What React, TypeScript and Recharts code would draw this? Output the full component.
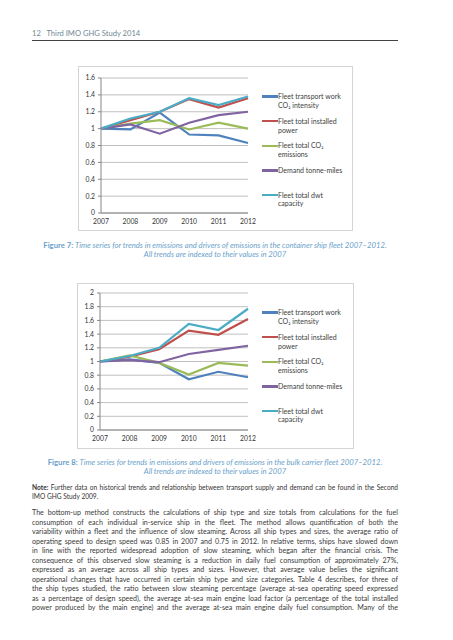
import { LineChart, Line, XAxis, YAxis, CartesianGrid } from "recharts";

const years = ["2007", "2008", "2009", "2010", "2011", "2012"];

// container ship fleet (Figure 7), indexed to 2007
const ctIntensity = [1, 0.99, 1.19, 0.93, 0.92, 0.83];
const ctPower = [1, 1.1, 1.2, 1.35, 1.25, 1.36];
const ctEmissions = [1, 1.06, 1.1, 0.99, 1.07, 1.0];
const ctDemand = [1, 1.05, 0.94, 1.07, 1.16, 1.2];
const ctDwt = [1, 1.12, 1.2, 1.36, 1.28, 1.38];

// bulk carrier fleet (Figure 8), indexed to 2007
const bkIntensity = [1, 1.03, 0.98, 0.74, 0.85, 0.77];
const bkPower = [1, 1.07, 1.18, 1.45, 1.39, 1.62];
const bkEmissions = [1, 1.09, 0.98, 0.81, 0.98, 0.94];
const bkDemand = [1, 1.02, 0.99, 1.11, 1.17, 1.23];
const bkDwt = [1, 1.08, 1.2, 1.55, 1.46, 1.77];

const ticks1 = [0, 0.2, 0.4, 0.6, 0.8, 1, 1.2, 1.4, 1.6];
const ticks2 = [0, 0.2, 0.4, 0.6, 0.8, 1, 1.2, 1.4, 1.6, 1.8, 2];

const series = [
  { key: "intensity", label: "Fleet transport work\nCO\u2082 intensity", color: "#4f81bd" },
  { key: "power", label: "Fleet total installed\npower", color: "#c0504d" },
  { key: "emissions", label: "Fleet total CO\u2082\nemissions", color: "#9bbb59" },
  { key: "demand", label: "Demand tonne-miles", color: "#8064a2" },
  { key: "dwt", label: "Fleet total dwt\ncapacity", color: "#4bacc6" },
];

const containerData = years.map((year, i) => ({
  year,
  intensity: ctIntensity[i],
  power: ctPower[i],
  emissions: ctEmissions[i],
  demand: ctDemand[i],
  dwt: ctDwt[i],
}));

const bulkData = years.map((year, i) => ({
  year,
  intensity: bkIntensity[i],
  power: bkPower[i],
  emissions: bkEmissions[i],
  demand: bkDemand[i],
  dwt: bkDwt[i],
}));

const bodyLines = [
  "The bottom-up method constructs the calculations of ship type and size totals from calculations for the fuel",
  "consumption of each individual in-service ship in the fleet. The method allows quantification of both the",
  "variability within a fleet and the influence of slow steaming. Across all ship types and sizes, the average ratio of",
  "operating speed to design speed was 0.85 in 2007 and 0.75 in 2012. In relative terms, ships have slowed down",
  "in line with the reported widespread adoption of slow steaming, which began after the financial crisis. The",
  "consequence of this observed slow steaming is a reduction in daily fuel consumption of approximately 27%,",
  "expressed as an average across all ship types and sizes. However, that average value belies the significant",
  "operational changes that have occurred in certain ship type and size categories. Table 4 describes, for three of",
  "the ship types studied, the ratio between slow steaming percentage (average at-sea operating speed expressed",
  "as a percentage of design speed), the average at-sea main engine load factor (a percentage of the total installed",
  "power produced by the main engine) and the average at-sea main engine daily fuel consumption. Many of the",
];

const font = "Lato, 'Open Sans', sans-serif";
const tickStyle = { fill: "#333", fontSize: 6.8, fontFamily: font };
const captionBlue = "#6a9fcb";

function SideLegend({ top, left }: { top: number; left: number }) {
  return (
    <div style={{ position: "absolute", top, left, width: 95, fontFamily: font, fontSize: 7, color: "#404040" }}>
      {series.map((s) => (
        <div key={s.key} style={{ display: "flex", alignItems: "flex-start", height: 24.6 }}>
          <span style={{ width: 16, height: 2.4, background: s.color, marginTop: 3.2, flexShrink: 0 }} />
          <span style={{ whiteSpace: "pre-line", lineHeight: "8.8px" }}>{s.label}</span>
        </div>
      ))}
    </div>
  );
}

interface TrendChartProps {
  data: typeof containerData;
  ticks: number[];
  max: number;
  width: number;
  height: number;
  margin: { top: number; right: number; left: number; bottom: number };
  yWidth: number;
  xHeight: number;
}

function TrendChart({ data, ticks, max, width, height, margin, yWidth, xHeight }: TrendChartProps) {
  return (
    <LineChart width={width} height={height} data={data} margin={margin}>
      <CartesianGrid vertical={false} stroke="#c0c0c0" strokeWidth={1} />
      <XAxis
        dataKey="year"
        height={xHeight}
        tick={tickStyle}
        tickLine={false}
        tickSize={3}
        tickMargin={3}
        axisLine={{ stroke: "#868686" }}
        interval={0}
      />
      <YAxis
        width={yWidth}
        domain={[0, max]}
        ticks={ticks}
        interval={0}
        tick={tickStyle}
        tickSize={3}
        tickMargin={3}
        tickLine={{ stroke: "#868686" }}
        axisLine={{ stroke: "#868686" }}
        tickFormatter={(v: number) => String(Number(v.toFixed(1)))}
      />
      {series.map((s) => (
        <Line
          key={s.key}
          dataKey={s.key}
          stroke={s.color}
          strokeWidth={2.2}
          dot={false}
          isAnimationActive={false}
        />
      ))}
    </LineChart>
  );
}

function Caption({ num, lines }: { num: string; lines: string[] }) {
  return (
    <div style={{ color: captionBlue, fontFamily: font, fontSize: 7.7, lineHeight: "8.5px", textAlign: "center", whiteSpace: "nowrap" }}>
      <div>
        <span style={{ fontWeight: 700 }}>Figure {num}: </span>
        <span style={{ fontStyle: "italic" }}>{lines[0]}</span>
      </div>
      <div style={{ fontStyle: "italic" }}>{lines[1]}</div>
    </div>
  );
}

export default function App() {
  return (
    <div style={{ position: "absolute", left: 0, top: 0, width: 453, height: 640, background: "#fff", overflow: "hidden" }}>
      {/* running header */}
      <div style={{ position: "absolute", left: 32, top: 28, fontFamily: font, fontSize: 7.6, color: "#6f8894", whiteSpace: "nowrap" }}>
        12&nbsp;&nbsp;&nbsp;Third IMO GHG Study 2014
      </div>
      <div style={{ position: "absolute", left: 32, top: 40, width: 366, height: 1, background: "#444" }} />

      {/* Figure 7 */}
      <div style={{ position: "absolute", left: 78, top: 66, width: 275, height: 165, border: "1px solid #d4d4d4", boxSizing: "border-box" }}>
        <TrendChart
          data={containerData}
          ticks={ticks1}
          max={1.6}
          width={273}
          height={163}
          margin={{ top: 11, right: 104, left: 0, bottom: 0 }}
          yWidth={22}
          xHeight={17}
        />
        <SideLegend top={25.3} left={183} />
      </div>
      <div style={{ position: "absolute", left: 32, top: 241, width: 366 }}>
        <Caption
          num="7"
          lines={[
            "Time series for trends in emissions and drivers of emissions in the container ship fleet 2007\u20132012.",
            "All trends are indexed to their values in 2007",
          ]}
        />
      </div>

      {/* Figure 8 */}
      <div style={{ position: "absolute", left: 77, top: 283, width: 277, height: 166, border: "1px solid #d4d4d4", boxSizing: "border-box" }}>
        <TrendChart
          data={bulkData}
          ticks={ticks2}
          max={2}
          width={275}
          height={164}
          margin={{ top: 9, right: 105, left: 0, bottom: 0 }}
          yWidth={22}
          xHeight={18}
        />
        <SideLegend top={24.3} left={184} />
      </div>
      <div style={{ position: "absolute", left: 32, top: 458, width: 366 }}>
        <Caption
          num="8"
          lines={[
            "Time series for trends in emissions and drivers of emissions in the bulk carrier fleet 2007\u20132012.",
            "All trends are indexed to their values in 2007",
          ]}
        />
      </div>

      {/* note */}
      <div style={{ position: "absolute", left: 32, top: 483, width: 366, fontFamily: font, fontSize: 6.6, lineHeight: "8.7px", color: "#333" }}>
        <div style={{ textAlign: "justify", textAlignLast: "justify", whiteSpace: "nowrap" }}>
          <b>Note:</b> Further data on historical trends and relationship between transport supply and demand can be found in the Second
        </div>
        <div>IMO GHG Study 2009.</div>
      </div>

      {/* body text */}
      <div style={{ position: "absolute", left: 32, top: 508, width: 366, fontFamily: font, fontSize: 7.1, lineHeight: "9.5px", color: "#3a3a3a" }}>
        {bodyLines.map((line, i) => (
          <div key={i} style={{ textAlign: "justify", textAlignLast: "justify" }}>
            {line}
          </div>
        ))}
      </div>
    </div>
  );
}
